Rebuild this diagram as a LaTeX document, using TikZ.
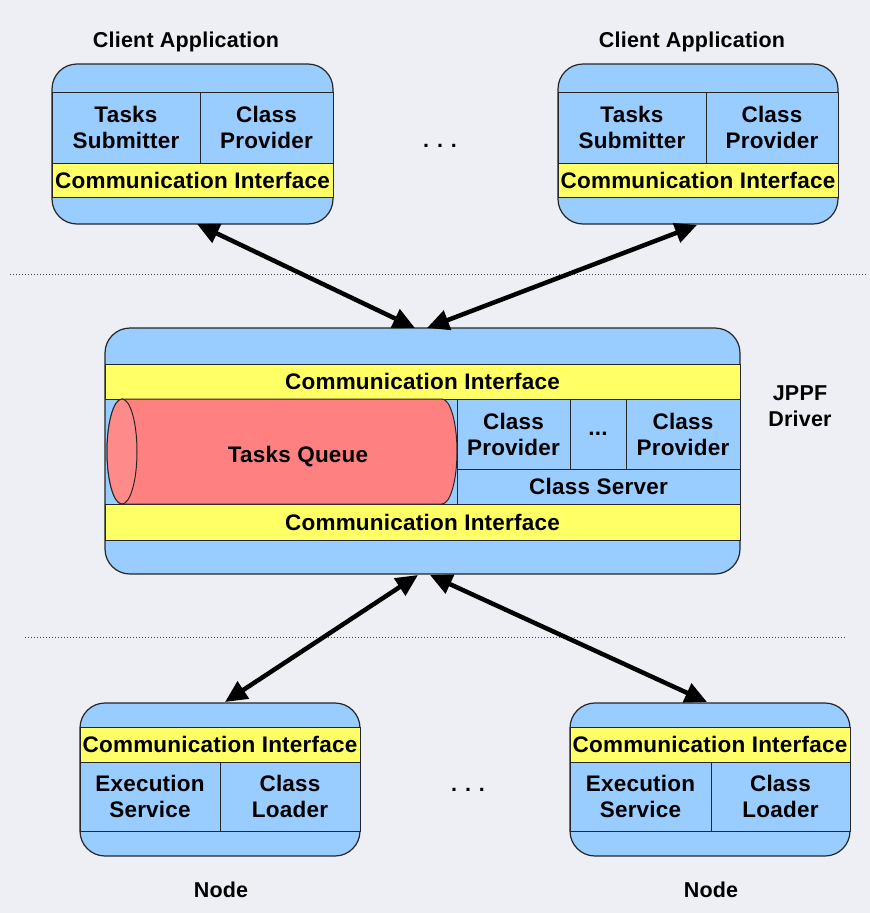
\documentclass[tikz,border=0pt]{standalone}
\usepackage{fontspec}
\setmainfont[LetterSpace=1]{Liberation Sans}
\usetikzlibrary{arrows.meta}
\definecolor{boxblue}{HTML}{99CCFF}
\definecolor{ciyellow}{HTML}{FFFF66}
\definecolor{qred}{HTML}{FF8080}
\definecolor{bgcol}{HTML}{EEEFF4}
\begin{document}
\begin{tikzpicture}[x=1pt,y=-1pt,
  outerbox/.style={draw=black!85, line width=1.2pt, fill=boxblue, rounded corners=25pt, anchor=north west, inner sep=0pt, outer sep=0pt},
  cell/.style={draw=black!85, line width=1pt, fill=boxblue, anchor=north west, inner sep=0pt, outer sep=0pt, align=center, font=\fontsize{22.5}{26}\selectfont\bfseries},
  ci/.style={cell, fill=ciyellow},
  lbl/.style={font=\fontsize{21.5}{26}\selectfont\bfseries, align=center},
  arr/.style={{Triangle[length=22pt,width=20pt]}-{Triangle[length=22pt,width=20pt]}, line width=4.5pt},
  sepline/.style={dotted, line width=1pt, black!75}]
\fill[bgcol] (0,0) rectangle (870,913);
\useasboundingbox (0,0) rectangle (870,913);

% separators
\coordinate (s1a) at (10,274); \coordinate (s1b) at (868,274);
\coordinate (s2a) at (25,637); \coordinate (s2b) at (845,637);
\draw[sepline] (s1a) -- (s1b);
\draw[sepline] (s2a) -- (s2b);

% client 1
\node[lbl] (cl1) at (186,42) {Client Application};
\node[outerbox, minimum width=281pt, minimum height=160pt] (c1) at (52,64) {};
\node[cell, minimum width=148pt, minimum height=71pt] (ts1) at (52,92) {Tasks\\Submitter};
\node[cell, minimum width=133pt, minimum height=71pt] (cp1) at (200,92) {Class\\Provider};
\node[ci, minimum width=281pt, minimum height=34pt] (ci1) at (52,163) {Communication Interface};

% client 2
\node[lbl] (cl2) at (692,42) {Client Application};
\node[outerbox, minimum width=280pt, minimum height=160pt] (c2) at (558,64) {};
\node[cell, minimum width=148pt, minimum height=71pt] (ts2) at (558,92) {Tasks\\Submitter};
\node[cell, minimum width=132pt, minimum height=71pt] (cp2) at (706,92) {Class\\Provider};
\node[ci, minimum width=280pt, minimum height=34pt] (ci2) at (558,163) {Communication Interface};

\node[lbl] (dots1) at (440,146) {.\hspace{8pt}.\hspace{8pt}.};

% driver
\node[outerbox, minimum width=635pt, minimum height=246pt] (drv) at (105,328) {};
\node[ci, minimum width=635pt, minimum height=35pt] (ciT) at (105,364) {Communication Interface};
\node[ci, minimum width=635pt, minimum height=36pt] (ciB) at (105,504) {Communication Interface};
\node[cell, minimum width=113pt, minimum height=70pt] (cp3) at (457,399) {Class\\Provider};
\node[cell, minimum width=56pt, minimum height=70pt] (cpd) at (570,399) {...};
\node[cell, minimum width=114pt, minimum height=70pt] (cp4) at (626,399) {Class\\Provider};
\node[cell, minimum width=283pt, minimum height=35pt] (cs) at (457,469) {Class Server};
% tasks queue cylinder
\draw[fill=qred, draw=black!85, line width=1pt]
  (122,399) -- (442,399) arc[start angle=-90, end angle=90, x radius=15, y radius=52.5]
  -- (122,504) arc[start angle=90, end angle=270, x radius=15, y radius=52.5] -- cycle;
\draw[fill=qred!92!white, draw=black!85, line width=1pt] (122,451.5) ellipse[x radius=15, y radius=52.5];
\node[lbl, font=\fontsize{22.5}{26}\selectfont\bfseries] (tq) at (298,457) {Tasks Queue};
\node[lbl] (jd) at (800,406) {JPPF\\Driver};

% nodes
\node[outerbox, minimum width=280pt, minimum height=153pt] (n1) at (80,703) {};
\node[ci, minimum width=280pt, minimum height=35pt] (ci3) at (80,727) {Communication Interface};
\node[cell, minimum width=140pt, minimum height=69pt] (es1) at (80,762) {Execution\\Service};
\node[cell, minimum width=140pt, minimum height=69pt] (ld1) at (220,762) {Class\\Loader};
\node[lbl] (nl1) at (221,890) {Node};

\node[outerbox, minimum width=280pt, minimum height=153pt] (n2) at (570,703) {};
\node[ci, minimum width=280pt, minimum height=35pt] (ci4) at (570,727) {Communication Interface};
\node[cell, minimum width=141pt, minimum height=69pt] (es2) at (570,762) {Execution\\Service};
\node[cell, minimum width=139pt, minimum height=69pt] (ld2) at (711,762) {Class\\Loader};
\node[lbl] (nl2) at (711,890) {Node};

\node[lbl] (dots2) at (468,790) {.\hspace{8pt}.\hspace{8pt}.};

% arrows
\coordinate (a1s) at (197,224); \coordinate (a1e) at (415,328);
\coordinate (a2s) at (697,225); \coordinate (a2e) at (427,328);
\coordinate (a3s) at (418,575); \coordinate (a3e) at (225,702);
\coordinate (a4s) at (430,575); \coordinate (a4e) at (707,702);
\draw[arr] (a1s) -- (a1e);
\draw[arr] (a2s) -- (a2e);
\draw[arr] (a3s) -- (a3e);
\draw[arr] (a4s) -- (a4e);
\end{tikzpicture}
\end{document}
